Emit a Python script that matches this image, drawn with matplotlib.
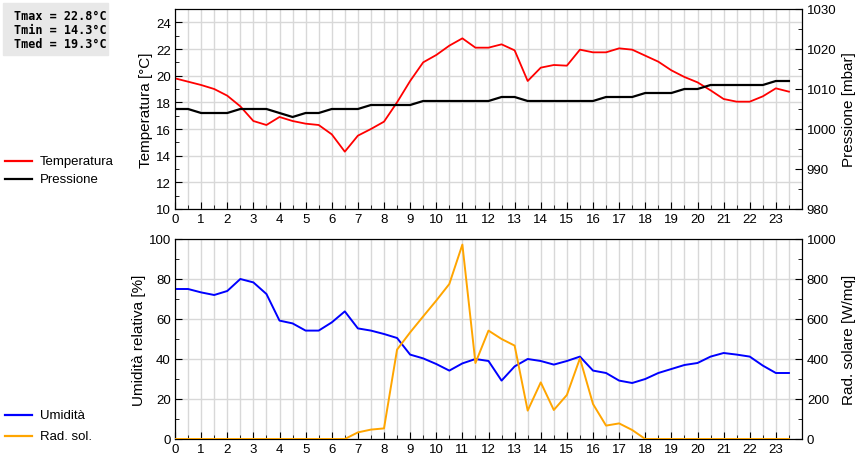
import matplotlib
matplotlib.use("Agg")
import matplotlib.pyplot as plt
from matplotlib.ticker import MultipleLocator
import numpy as np

plt.rcParams['font.family'] = ['Liberation Sans', 'DejaVu Sans']

hours = [i * 0.5 for i in range(48)]
temperatura = [19.8, 19.55, 19.3, 19.0, 18.5, 17.7, 16.6, 16.3, 16.9, 16.6, 16.4, 16.3,
               15.6, 14.3, 15.5, 16.0, 16.55, 18.0, 19.6, 21.0, 21.55, 22.25, 22.8, 22.1,
               22.1, 22.35, 21.9, 19.6, 20.6, 20.8, 20.75, 21.95, 21.75, 21.75, 22.05, 21.95,
               21.5, 21.05, 20.4, 19.9, 19.5, 18.9, 18.25, 18.05, 18.05, 18.45, 19.05, 18.8]
pressione = [1005, 1005, 1004, 1004, 1004, 1005, 1005, 1005, 1004, 1003, 1004, 1004,
             1005, 1005, 1005, 1006, 1006, 1006, 1006, 1007, 1007, 1007, 1007, 1007,
             1007, 1008, 1008, 1007, 1007, 1007, 1007, 1007, 1007, 1008, 1008, 1008,
             1009, 1009, 1009, 1010, 1010, 1011, 1011, 1011, 1011, 1011, 1012, 1012]
umidita = [75, 75, 73.3, 72, 74, 80, 78.3, 72.5, 59.2, 57.8, 54.2, 54.2,
           58.3, 63.8, 55.3, 54.2, 52.5, 50.5, 42.2, 40.3, 37.5, 34.2, 37.8, 40,
           39, 29.2, 36.3, 40, 39, 37.2, 39, 41.2, 34.2, 33, 29.2, 28,
           30, 33, 35, 37, 38, 41.2, 43, 42.2, 41.2, 36.7, 33, 33]
rad_sol = [0, 0, 0, 0, 0, 0, 0, 0, 0, 0, 0, 0,
           0, 0, 33, 47, 53, 447, 533, 613, 692, 775, 972, 380,
           542, 500, 467, 142, 283, 145, 220, 403, 175, 67, 78, 45,
           0, 0, 0, 0, 0, 0, 0, 0, 0, 0, 0, 0]
stats = ["Tmax = 22.8°C", "Tmin = 14.3°C", "Tmed = 19.3°C"]

fig = plt.figure(figsize=(8.6, 4.6), dpi=100)
W, H = 860, 460
def rect(l, t, r, b):
    return [l / W, 1 - b / H, (r - l) / W, (b - t) / H]

ax1 = fig.add_axes(rect(175, 10, 802, 210))
ax3 = fig.add_axes(rect(175, 240, 802, 440))
grid_c = '#d8d8d8'
tick_fs = 9.5

for ax in (ax1, ax3):
    ax.set_xlim(0, 24)
    ax.xaxis.set_major_locator(MultipleLocator(1))
    ax.xaxis.set_minor_locator(MultipleLocator(0.5))
    ax.grid(True, which='both', axis='x', color=grid_c, lw=1)
    ax.grid(True, which='major', axis='y', color=grid_c, lw=1)
    ax.set_axisbelow(True)
    ax.tick_params(which='both', direction='in', labelsize=tick_fs, pad=3)
    ax.tick_params(which='major', length=5)
    ax.tick_params(which='minor', length=3)
    ax.set_xticks(range(24))

# Top chart
ax1.set_ylim(10, 25)
ax1.yaxis.set_major_locator(MultipleLocator(2))
ax1.yaxis.set_minor_locator(MultipleLocator(1))
ax1.set_yticks(range(10, 25, 2))
ax1.plot(hours, temperatura, color='#ff0000', lw=1.3, zorder=3)
ax1.set_ylabel('Temperatura [°C]', fontsize=11, labelpad=2)
ax2 = ax1.twinx()
ax2.set_ylim(980, 1030)
ax2.yaxis.set_major_locator(MultipleLocator(10))
ax2.yaxis.set_minor_locator(MultipleLocator(5))
ax2.tick_params(which='both', direction='in', labelsize=tick_fs)
ax2.tick_params(which='major', length=5)
ax2.tick_params(which='minor', length=3)
ax2.plot(hours, pressione, color='#000000', lw=1.6, zorder=3)
ax2.set_ylabel('Pressione [mbar]', fontsize=11, labelpad=4)

# Bottom chart
ax3.set_ylim(0, 100)
ax3.yaxis.set_major_locator(MultipleLocator(20))
ax3.yaxis.set_minor_locator(MultipleLocator(10))
ax3.plot(hours, umidita, color='#0000ff', lw=1.4, zorder=3)
ax3.set_ylabel('Umidità relativa [%]', fontsize=11, labelpad=2)
ax4 = ax3.twinx()
ax4.set_ylim(0, 1000)
ax4.yaxis.set_major_locator(MultipleLocator(200))
ax4.yaxis.set_minor_locator(MultipleLocator(100))
ax4.tick_params(which='both', direction='in', labelsize=tick_fs)
ax4.tick_params(which='major', length=5)
ax4.tick_params(which='minor', length=3)
ax4.plot(hours, rad_sol, color='#ffa500', lw=1.4, zorder=3)
ax4.set_ylabel('Rad. solare [W/mq]', fontsize=11, labelpad=4)

# Legends on the left
def leg(y, color, label):
    fig.lines.append(plt.Line2D([5 / W, 32 / W], [1 - y / H, 1 - y / H],
                                color=color, lw=1.6, transform=fig.transFigure))
    fig.text(40 / W, 1 - y / H, label, fontsize=9.5, va='center', ha='left')

leg(162, '#ff0000', 'Temperatura')
leg(180, '#000000', 'Pressione')
leg(416, '#0000ff', 'Umidità')
leg(437, '#ffa500', 'Rad. sol.')

# Stats box
fig.patches.append(plt.Rectangle((3 / W, 1 - 56 / H), 105 / W, 52 / H,
                                 transform=fig.transFigure, color='#e8e8e8', zorder=0))
for i, s in enumerate(stats):
    fig.text(14 / W, 1 - (17 + i * 13.5) / H, s, fontsize=8.5, va='center', ha='left',
             family='DejaVu Sans Mono', weight='bold')

fig.savefig('out.png', dpi=100)
